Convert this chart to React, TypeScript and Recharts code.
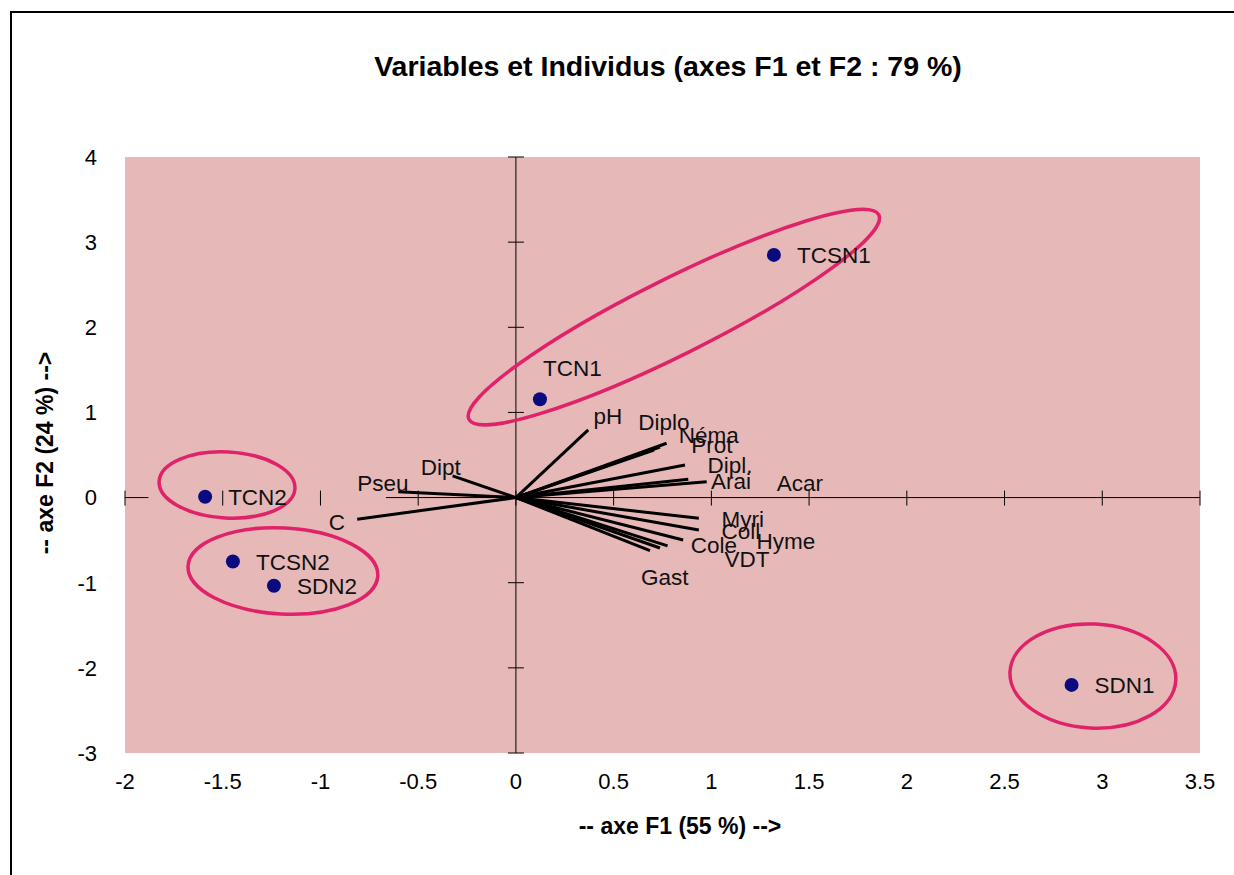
import { CartesianGrid, ReferenceLine, Scatter, ScatterChart, XAxis, YAxis } from "recharts";

const FONT = "Arial, 'Liberation Sans', Helvetica, sans-serif";

const xTicks = [-2, -1.5, -1, -0.5, 0, 0.5, 1, 1.5, 2, 2.5, 3, 3.5];
const yTicks = [-3, -2, -1, 0, 1, 2, 3, 4];

// individus (observations)
const individus = ["TCSN1", "TCN1", "TCN2", "TCSN2", "SDN2", "SDN1"];
const indF1 = [1.32, 0.123, -1.59, -1.448, -1.238, 2.843];
const indF2 = [2.85, 1.155, 0.01, -0.75, -1.035, -2.2];

// variables (arrow tips)
const variables = ["pH", "Diplo", "Néma", "Prot", "Dipl.", "Arai", "Acar", "Myri", "Coll", "Hyme", "Cole", "VDT", "Gast", "Dipt", "Pseu", "C"];
const varF1 = [0.37, 0.706, 0.771, 0.737, 0.865, 0.882, 0.976, 0.936, 0.936, 0.856, 0.776, 0.737, 0.686, -0.324, -0.602, -0.812];
const varF2 = [0.794, 0.559, 0.638, 0.594, 0.383, 0.215, 0.187, -0.243, -0.381, -0.498, -0.568, -0.592, -0.624, 0.254, 0.069, -0.255];
// where the labels were dragged to on the original sheet
const varLabelF1 = [0.471, 0.757, 0.987, 1.003, 1.095, 1.1, 1.453, 1.161, 1.151, 1.381, 1.013, 1.182, 0.762, -0.384, -0.68, -0.916];
const varLabelF2 = [0.958, 0.876, 0.724, 0.606, 0.371, 0.183, 0.171, -0.252, -0.393, -0.511, -0.568, -0.733, -0.933, 0.359, 0.171, -0.298];

// circled groups (centres)
const groupF1 = [0.808, -1.478, -1.192, 2.952];
const groupF2 = [2.12, 0.148, -0.862, -2.096];

// pixel shape of each circle
const groupShape = [
  { rx: 229, ry: 38, rot: -26.5 },
  { rx: 68, ry: 33, rot: 3 },
  { rx: 95, ry: 43, rot: 3 },
  { rx: 83, ry: 52, rot: 3 },
];

const BG = "#e6b9b8";
const RING = "#e0226a";
const DOT = "#0b0b80";

const indData = individus.map((name, i) => ({ name, x: indF1[i], y: indF2[i] }));
const varLabels = variables.map((name, i) => ({ name, x: varLabelF1[i], y: varLabelF2[i] }));
const groups = groupF1.map((x, i) => ({ x, y: groupF2[i], i }));
const xTickMarks = xTicks.map((x) => ({ x, y: 0 }));
const yTickMarks = yTicks.map((y) => ({ x: 0, y }));

const IndShape = (p: any) => {
  const { cx, cy, payload } = p;
  const top = payload.name === "TCN1";
  return (
    <g>
      <circle cx={cx} cy={cy} r={7} fill={DOT} />
      <text
        x={top ? cx + 3 : cx + 23}
        y={top ? cy - 31 : cy + 1}
        dominantBaseline="central"
        fontSize={22.5}
        fontFamily={FONT}
        fill="#111"
      >
        {payload.name}
      </text>
    </g>
  );
};

const VarLabelShape = (p: any) => (
  <text x={p.cx} y={p.cy} textAnchor="middle" dominantBaseline="central" fontSize={22.5} fontFamily={FONT} fill="#111">
    {p.payload.name}
  </text>
);

const RingShape = (p: any) => {
  const s = groupShape[p.payload.i];
  return (
    <ellipse
      cx={p.cx}
      cy={p.cy}
      rx={s.rx}
      ry={s.ry}
      fill="none"
      stroke={RING}
      strokeWidth={3.5}
      transform={`rotate(${s.rot} ${p.cx} ${p.cy})`}
    />
  );
};

const XTickShape = (p: any) => <line x1={p.cx} x2={p.cx} y1={p.cy - 7} y2={p.cy + 8} stroke="#000" strokeWidth={1} />;
const YTickShape = (p: any) => <line x1={p.cx - 8} x2={p.cx + 8} y1={p.cy} y2={p.cy} stroke="#000" strokeWidth={1} />;

export default function App() {
  return (
    <div style={{ position: "relative", width: 1234, height: 875, overflow: "hidden", background: "#fff", fontFamily: FONT }}>
      <style>{"body{margin:0}"}</style>
      <div style={{ position: "absolute", left: 10, top: 11, width: 1400, height: 1000, border: "2px solid #000" }} />
      <ScatterChart width={1234} height={875} margin={{ top: 157, right: 34, bottom: 0, left: 0 }}>
        <CartesianGrid fill={BG} stroke="none" horizontal={false} vertical={false} />
        <XAxis
          type="number"
          dataKey="x"
          domain={[-2, 3.5]}
          ticks={xTicks}
          height={122}
          axisLine={false}
          tickLine={false}
          tickSize={0}
          tickMargin={20}
          interval={0}
          tick={{ fill: "#000", fontSize: 22, fontFamily: FONT }}
        />
        <YAxis
          type="number"
          dataKey="y"
          domain={[-3, 4]}
          ticks={yTicks}
          width={125}
          axisLine={false}
          tickLine={false}
          tickSize={0}
          tickMargin={28}
          interval={0}
          tick={{ fill: "#000", fontSize: 22, fontFamily: FONT }}
        />
        <ReferenceLine x={0} stroke="#000" strokeWidth={1} />
        <ReferenceLine segment={[{ x: -2, y: 0 }, { x: -1.88, y: 0 }]} stroke="#000" strokeWidth={1} />
        <ReferenceLine segment={[{ x: -0.665, y: 0 }, { x: 3.5, y: 0 }]} stroke="#000" strokeWidth={1} />
        {variables.map((name, i) => (
          <ReferenceLine
            key={name}
            segment={[{ x: 0, y: 0 }, { x: varF1[i], y: varF2[i] }]}
            stroke="#000"
            strokeWidth={3}
          />
        ))}
        <Scatter data={xTickMarks} shape={XTickShape} isAnimationActive={false} />
        <Scatter data={yTickMarks} shape={YTickShape} isAnimationActive={false} />
        <Scatter data={varLabels} shape={VarLabelShape} isAnimationActive={false} />
        <Scatter data={groups} shape={RingShape} isAnimationActive={false} />
        <Scatter data={indData} shape={IndShape} isAnimationActive={false} />
      </ScatterChart>
      <div
        style={{
          position: "absolute",
          left: 268,
          width: 800,
          top: 49,
          textAlign: "center",
          fontSize: 28.5,
          fontWeight: "bold",
          lineHeight: "34px",
        }}
      >
        Variables et Individus (axes F1 et F2 : 79 %)
      </div>
      <div
        style={{
          position: "absolute",
          left: 480,
          width: 400,
          top: 812,
          textAlign: "center",
          fontSize: 23,
          fontWeight: "bold",
          lineHeight: "28px",
        }}
      >
        -- axe F1 (55 %) --&gt;
      </div>
      <div
        style={{
          position: "absolute",
          left: 45 - 200,
          width: 400,
          top: 453 - 14,
          textAlign: "center",
          fontSize: 23,
          fontWeight: "bold",
          lineHeight: "28px",
          transform: "rotate(-90deg)",
        }}
      >
        -- axe F2 (24 %) --&gt;
      </div>
    </div>
  );
}
